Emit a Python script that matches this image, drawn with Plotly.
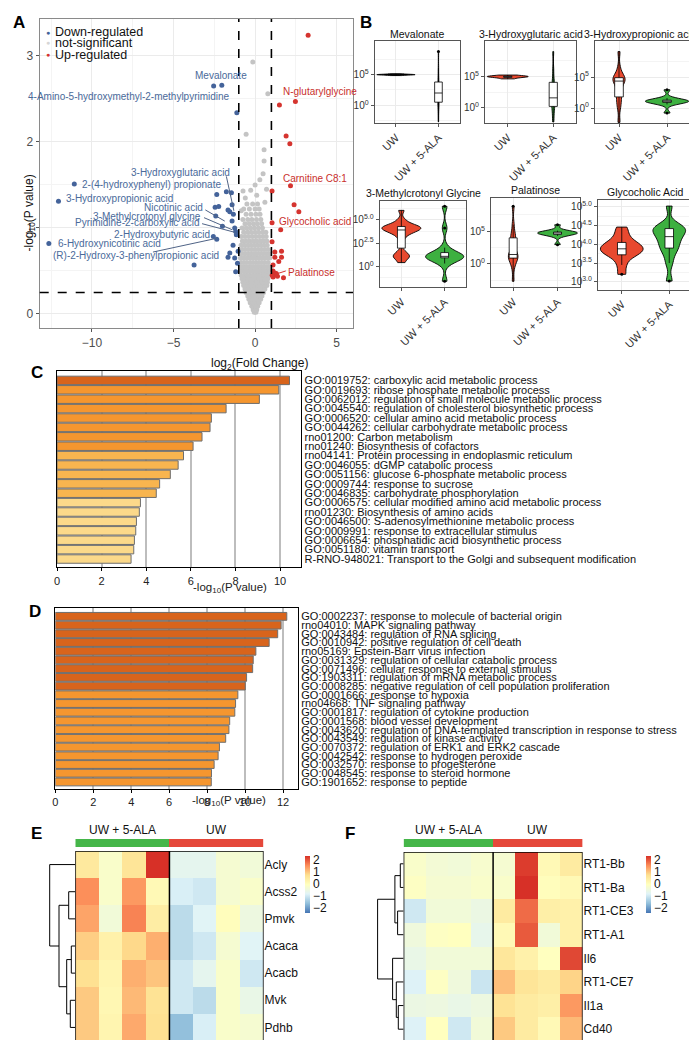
import numpy as np
import plotly.graph_objects as go

W, H = 697, 1040
FONT = "Liberation Sans, Arial, Helvetica, sans-serif"

def X(px): return px / W
def Y(py): return 1 - py / H
def xd(a, b): return [X(a), X(b)]
def yd(top, bot): return [Y(bot), Y(top)]

# ---------------- Panel A : volcano ----------------
fc_thr = 1.0
p_thr = 0.25
down_x = [-2.54, -2.04, -1.12, -11.08, -12.05, -12.64, -3.74, -2.56, -2.35, -2.35, -1.76, -1.45, -2.45, -2.23, -2.41,
          -2.0, -1.66, -1.55, -1.41, -1.33, -1.41, -1.25, -1.19, -1.15, -1.55, -1.66, -1.35, -1.25, -1.19, -1.04, -1.08]
down_y = [2.65, 2.66, 2.34, 1.51, 1.31, 0.82, 0.57, 0.90, 0.87, 1.39, 1.42, 1.41, 1.24, 1.25, 1.14,
          1.02, 1.21, 1.19, 1.27, 1.16, 1.08, 1.0, 0.96, 0.92, 0.71, 0.66, 0.80, 0.65, 0.49, 0.73, 0.59]
up_x = [3.25, 1.49, 2.47, 1.90, 2.13, 2.17, 2.39, 2.68, 1.04, 1.04, 1.57, 1.21, 1.62, 1.21, 1.62, 1.45,
        1.10, 1.21, 1.37, 1.10, 1.74, 1.04, 1.10, 1.15, 1.30, 1.05]
up_y = [3.24, 2.43, 2.47, 2.07, 1.98, 1.49, 1.27, 1.19, 1.43, 1.06, 0.98, 0.72, 0.73, 0.66, 0.66, 0.61,
        0.50, 0.46, 0.44, 0.43, 0.42, 0.84, 0.57, 0.48, 0.47, 0.45]
grey_rows = [
    (0.02, [-0.05, 0.05]),
    (0.05, [-0.12, 0.0, 0.1]),
    (0.09, [-0.2, -0.08, 0.04, 0.16]),
    (0.13, [-0.3, -0.15, 0.0, 0.12, 0.25]),
    (0.17, [-0.38, -0.22, -0.06, 0.08, 0.22, 0.34]),
    (0.21, [-0.45, -0.3, -0.12, 0.02, 0.18, 0.32, 0.42]),
    (0.25, [-0.55, -0.38, -0.2, -0.05, 0.1, 0.26, 0.4, 0.52]),
    (0.29, [-0.62, -0.45, -0.28, -0.12, 0.04, 0.2, 0.35, 0.5, 0.6]),
    (0.33, [-0.7, -0.52, -0.35, -0.18, 0.0, 0.15, 0.3, 0.46, 0.62, 0.72]),
    (0.37, [-0.75, -0.58, -0.4, -0.22, -0.05, 0.12, 0.28, 0.44, 0.6, 0.75]),
    (0.41, [-0.8, -0.62, -0.45, -0.28, -0.1, 0.08, 0.25, 0.42, 0.58, 0.78]),
    (0.45, [-0.85, -0.66, -0.48, -0.3, -0.12, 0.05, 0.22, 0.4, 0.56, 0.72, 0.85]),
    (0.50, [-0.88, -0.7, -0.52, -0.34, -0.16, 0.02, 0.2, 0.38, 0.55, 0.72, 0.88]),
    (0.55, [-0.9, -0.72, -0.55, -0.36, -0.18, 0.0, 0.18, 0.36, 0.54, 0.72, 0.9]),
    (0.60, [-0.86, -0.68, -0.5, -0.3, -0.12, 0.06, 0.24, 0.42, 0.6, 0.8]),
    (0.65, [-0.9, -0.7, -0.5, -0.32, -0.14, 0.04, 0.22, 0.4, 0.58, 0.76, 0.9]),
    (0.70, [-0.85, -0.64, -0.44, -0.26, -0.08, 0.1, 0.3, 0.5, 0.7, 0.88]),
    (0.75, [-0.8, -0.6, -0.4, -0.2, 0.0, 0.2, 0.4, 0.6, 0.8]),
    (0.80, [-0.86, -0.66, -0.46, -0.26, -0.06, 0.14, 0.34, 0.54, 0.74]),
    (0.85, [-0.78, -0.56, -0.34, -0.12, 0.1, 0.32, 0.52, 0.72]),
    (0.90, [-0.84, -0.62, -0.4, -0.18, 0.04, 0.26, 0.48, 0.68]),
    (0.95, [-0.7, -0.46, -0.24, 0.0, 0.22, 0.46, 0.66]),
    (1.00, [-0.8, -0.55, -0.3, -0.05, 0.2, 0.45]),
    (1.05, [-0.62, -0.36, -0.1, 0.14, 0.4]),
    (1.10, [-0.75, -0.45, -0.2, 0.08, 0.35]),
    (1.16, [-0.55, -0.25, 0.05, 0.3]),
    (1.22, [-0.7, -0.35, 0.0, 0.25]),
    (1.28, [-0.5, -0.15, 0.15]),
]
grey_extra_x = [-0.14, 0.78, -0.55, 0.55, 0.55, 0.49, 0.29, -0.27, -0.74, -0.6, 0.1, 0.6, -0.85, 0.7, 0.0]
grey_extra_y = [2.93, 2.56, 2.09, 1.91, 1.78, 1.63, 1.56, 1.44, 1.43, 1.35, 1.38, 1.30, 1.20, 1.45, 1.50]
grey_x = [x for y, xs in grey_rows for x in xs] + grey_extra_x
grey_y = [y for y, xs in grey_rows for x in xs] + grey_extra_y

down_labels = ["Mevalonate", "4-Amino-5-hydroxymethyl-2-methylpyrimidine", "3-Hydroxyglutaric acid",
               "2-(4-hydroxyphenyl) propionate", "3-Hydroxypropionic acid", "Nicotinic acid",
               "3-Methylcrotonyl glycine", "Pyrimidine-2-carboxylic acid", "2-Hydroxybutyric acid",
               "6-Hydroxynicotinic acid", "(R)-2-Hydroxy-3-phenylpropionic acid"]
down_lab_x = [-2.06, -1.41, -1.41, -10.74, -11.72, -3.07, -3.19, -3.31, -2.64, -12.21, -2.09]
down_lab_y = [2.775, 2.53, 1.65, 1.51, 1.34, 1.24, 1.136, 1.058, 0.922, 0.817, 0.683]
down_lab_anchor = ["center", "right", "right", "left", "left", "right", "right", "right", "right", "left", "right"]
up_labels = ["N-glutarylglycine", "Carnitine C8:1", "Glycocholic acid", "Palatinose"]
up_lab_x = [1.58, 1.58, 1.37, 1.90]
up_lab_y = [2.59, 1.57, 1.078, 0.477]
down_seg = [(-1.76, 1.60, -1.30, 1.20), (-3.05, 1.21, -1.86, 1.08), (-3.13, 1.12, -1.41, 0.98),
            (-3.25, 1.05, -1.25, 0.95), (-6.26, 0.72, -2.35, 0.88)]
up_seg = [(1.88, 0.50, 1.21, 0.46)]

# ---------------- Panel B : violins (log10 values) ----------------
groups_b = ["UW", "UW + 5-ALA"]
mev_uw = [4.85, 4.95, 5.0, 5.0, 5.0, 5.05, 5.15]
mev_ala = [-2.7, -0.5, 0.5, 0.8, 1.5, 2.5, 3.5, 3.8, 6.0, 8.8]
hga_uw = [4.6, 4.8, 4.9, 4.95, 5.0, 5.05, 5.2]
hga_ala = [-2.2, -1.0, 0.0, 0.5, 1.0, 1.2, 2.0, 3.0, 3.9, 4.2, 6.0, 8.9]
hpa_uw = [-2.3, 0.0, 1.0, 1.8, 2.5, 3.5, 4.2, 4.5, 4.6, 4.8, 4.9, 5.2, 6.5, 9.1]
hpa_ala = [-0.8, 0.6, 0.9, 1.0, 1.05, 1.1, 1.15, 1.2, 1.3, 1.6, 2.95]
mcg_uw = [0.4, 0.9, 1.07, 1.2, 1.6, 3.0, 3.5, 3.6, 3.8, 3.9, 4.0, 4.1, 4.15, 4.2, 4.3, 4.4, 4.6, 5.0, 6.0]
mcg_ala = [-1.6, 0.3, 0.8, 0.95, 1.0, 1.05, 1.07, 1.1, 1.15, 1.3, 2.0, 4.1, 6.44]
pal_uw = [-2.65, -0.5, 0.5, 0.9, 1.1, 1.2, 1.3, 1.6, 2.5, 3.8, 4.0, 4.5, 6.0, 8.83]
pal_ala = [2.96, 4.3, 4.5, 4.6, 4.7, 4.75, 4.8, 4.85, 4.9, 5.1, 6.0]
gca_uw = [3.2, 3.45, 3.65, 3.72, 3.78, 3.83, 3.86, 3.9, 3.95, 4.0, 4.05, 4.15, 4.3, 4.46]
gca_ala = [3.02, 3.5, 3.75, 3.9, 3.95, 4.1, 4.16, 4.25, 4.35, 4.4, 4.42, 4.45, 4.5, 5.02]

# ---------------- Panel C / D : enrichment ----------------
c_terms = ["GO:0019752: carboxylic acid metabolic process",
           "GO:0019693: ribose phosphate metabolic process",
           "GO:0062012: regulation of small molecule metabolic process",
           "GO:0045540: regulation of cholesterol biosynthetic process",
           "GO:0006520: cellular amino acid metabolic process",
           "GO:0044262: cellular carbohydrate metabolic process",
           "rno01200: Carbon metabolism",
           "rno01240: Biosynthesis of cofactors",
           "rno04141: Protein processing in endoplasmic reticulum",
           "GO:0046055: dGMP catabolic process",
           "GO:0051156: glucose 6-phosphate metabolic process",
           "GO:0009744: response to sucrose",
           "GO:0046835: carbohydrate phosphorylation",
           "GO:0006575: cellular modified amino acid metabolic process",
           "rno01230: Biosynthesis of amino acids",
           "GO:0046500: S-adenosylmethionine metabolic process",
           "GO:0009991: response to extracellular stimulus",
           "GO:0006654: phosphatidic acid biosynthetic process",
           "GO:0051180: vitamin transport",
           "R-RNO-948021: Transport to the Golgi and subsequent modification"]
c_vals = [10.42, 9.94, 9.07, 7.58, 6.92, 6.86, 6.5, 6.1, 5.67, 5.43, 5.08, 4.6, 4.45, 3.74, 3.69, 3.56, 3.53,
          3.47, 3.44, 3.32]
d_terms = ["GO:0002237: response to molecule of bacterial origin",
           "rno04010: MAPK signaling pathway",
           "GO:0043484: regulation of RNA splicing",
           "GO:0010942: positive regulation of cell death",
           "rno05169: Epstein-Barr virus infection",
           "GO:0031329: regulation of cellular catabolic process",
           "GO:0071496: cellular response to external stimulus",
           "GO:1903311: regulation of mRNA metabolic process",
           "GO:0008285: negative regulation of cell population proliferation",
           "GO:0001666: response to hypoxia",
           "rno04668: TNF signaling pathway",
           "GO:0001817: regulation of cytokine production",
           "GO:0001568: blood vessel development",
           "GO:0043620: regulation of DNA-templated transcription in response to stress",
           "GO:0043549: regulation of kinase activity",
           "GO:0070372: regulation of ERK1 and ERK2 cascade",
           "GO:0042542: response to hydrogen peroxide",
           "GO:0032570: response to progesterone",
           "GO:0048545: response to steroid hormone",
           "GO:1901652: response to peptide"]
d_vals = [12.2, 11.9, 11.72, 11.27, 10.57, 10.43, 10.4, 10.08, 10.01, 9.62, 9.5, 9.46, 9.19, 9.15, 8.98,
          8.65, 8.58, 8.37, 8.23, 8.22]
bins = [10, 6, 4]
bin_colors = ["#D8641C", "#F5962F", "#F8B54F", "#FCD98A"]

# ---------------- Panel E / F : heatmaps ----------------
heat_groups = ["UW + 5-ALA"] * 4 + ["UW"] * 4
e_genes = ["Acly", "Acss2", "Pmvk", "Acaca", "Acacb", "Mvk", "Pdhb"]
e_vals = [
    [0.5, -0.2, 0.6, 2.3, -0.7, -0.7, -0.3, -0.4],
    [1.5, -0.2, 1.4, 0.1, -0.9, -1.0, -0.3, -0.2],
    [1.3, -0.4, 1.6, 0.4, -1.2, -0.8, 0.0, -0.5],
    [0.9, 0.3, 0.8, 1.2, -1.2, -1.0, -0.3, -0.8],
    [0.7, 0.2, 1.2, 1.0, -1.0, -0.7, -0.2, -1.0],
    [0.95, 0.15, 1.1, 0.65, -1.0, -1.2, -0.2, -0.6],
    [0.95, 0.2, 1.25, 0.7, -1.6, -0.9, -0.2, -0.3],
]
e_merges = [(3, 4, 4.0), (5, 6, 5.0), (1, 2, 6.6), (7, 8, 8.6), (9, 10, 16.3), (0, 11, 25.6)]
f_genes = ["RT1-Bb", "RT1-Ba", "RT1-CE3", "RT1-A1", "Il6", "RT1-CE7", "Il1a", "Cd40"]
f_vals = [
    [-0.2, -0.35, -0.4, -0.25, -0.3, 2.2, 0.1, 0.45],
    [-0.1, -0.3, -0.3, -0.2, -0.2, 2.3, 0.0, 0.1],
    [-1.0, -0.4, -0.4, -0.55, 0.45, 1.8, 0.35, 0.3],
    [-0.45, -0.1, -0.05, -0.65, 0.1, 1.95, -0.4, 0.3],
    [-0.6, -0.4, -0.4, -0.4, 0.55, 0.3, -0.05, 2.1],
    [-0.85, -0.1, -0.45, -1.05, 1.05, 0.6, 0.45, 0.85],
    [-0.55, -0.5, -0.6, -0.5, 0.65, 0.45, 0.35, 1.4],
    [-0.85, -0.05, -1.0, -0.4, 0.95, 0.45, 0.1, 1.1],
]
f_merges = [(0, 1, 3.3), (2, 3, 6.0), (8, 9, 8.7), (6, 7, 5.3), (5, 11, 7.3), (4, 12, 11.0), (10, 13, 26.0)]
heat_scale = ["#4575B4", "#91BFDB", "#E0F3F8", "#FFFFBF", "#FEE090", "#FC8D59", "#D73027"]

# ======================================================================
RED_V, GREEN_V = "#E8492F", "#3DB040"
BLUE, RED, GREY = "#44639A", "#D5342F", "#C4C4C4"
fig = go.Figure()
L = dict(width=W, height=H, margin=dict(l=0, r=0, t=0, b=0), paper_bgcolor="white", plot_bgcolor="white",
         showlegend=False, font=dict(family=FONT, size=11, color="#222222"),
         violinmode="overlay", boxmode="overlay", bargap=0.1)
ann = []
shapes = []

# ---- A ----
L["xaxis"] = dict(domain=xd(31.7, 345), range=[-13.2, 6.0], tickvals=[-10, -5, 0, 5], anchor="y",
                  showgrid=True, gridcolor="#EBEBEB", zeroline=False, showline=True, mirror=True,
                  linecolor="#8A8A8A", linewidth=1.2, ticks="outside", ticklen=3, tickcolor="#555",
                  tickfont=dict(size=12, color="#4D4D4D"), automargin=False,
                  minor=dict(tickvals=[-12.5, -7.5, -2.5, 2.5], showgrid=True, gridcolor="#F4F4F4", ticks=""))
L["yaxis"] = dict(domain=yd(11, 320), range=[-0.163, 3.43], tickvals=[0, 1, 2, 3], anchor="x",
                  showgrid=True, gridcolor="#EBEBEB", zeroline=False, showline=True, mirror=True,
                  linecolor="#8A8A8A", linewidth=1.2, ticks="outside", ticklen=3, tickcolor="#555",
                  tickfont=dict(size=12, color="#4D4D4D"), automargin=False,
                  minor=dict(tickvals=[0.5, 1.5, 2.5], showgrid=True, gridcolor="#F4F4F4", ticks=""))
fig.add_trace(go.Scatter(x=grey_x, y=grey_y, mode="markers", marker=dict(size=5, color=GREY), xaxis="x", yaxis="y"))
fig.add_trace(go.Scatter(x=down_x, y=down_y, mode="markers", marker=dict(size=5, color=BLUE), xaxis="x", yaxis="y"))
fig.add_trace(go.Scatter(x=up_x, y=up_y, mode="markers", marker=dict(size=5, color=RED), xaxis="x", yaxis="y"))

def seg_xy(segs):
    xs, ys = [], []
    for x0, y0, x1, y1 in segs:
        xs += [x0, x1, None]
        ys += [y0, y1, None]
    return xs, ys
sx, sy = seg_xy(down_seg)
fig.add_trace(go.Scatter(x=sx, y=sy, mode="lines", line=dict(color="#4F6386", width=1), xaxis="x", yaxis="y"))
sx, sy = seg_xy(up_seg)
fig.add_trace(go.Scatter(x=sx, y=sy, mode="lines", line=dict(color=RED, width=1), xaxis="x", yaxis="y"))
for t, x, y, a in zip(down_labels, down_lab_x, down_lab_y, down_lab_anchor):
    ann.append(dict(text=t, x=x, y=y, xref="x", yref="y", xanchor=a, yanchor="middle", showarrow=False,
                    font=dict(size=10, color="#4A6A9A")))
for t, x, y in zip(up_labels, up_lab_x, up_lab_y):
    ann.append(dict(text=t, x=x, y=y, xref="x", yref="y", xanchor="left", yanchor="middle", showarrow=False,
                    font=dict(size=10, color="#C9302C")))
for xv in (-fc_thr, fc_thr):
    shapes.append(dict(type="line", xref="x", yref="y domain", x0=xv, x1=xv, y0=0, y1=1,
                       line=dict(color="black", width=1.6, dash="dash")))
shapes.append(dict(type="line", xref="x domain", yref="y", x0=0, x1=1, y0=p_thr, y1=p_thr,
                   line=dict(color="black", width=1.6, dash="dash")))
leg = [("Down-regulated", BLUE, 24), ("not-significant", "#D6D6D6", 35), ("Up-regulated", RED, 47)]
for t, c, py in leg:
    ann.append(dict(text="●", x=X(40), y=Y(py), xref="paper", yref="paper", xanchor="center", yanchor="middle",
                    showarrow=False, font=dict(size=7, color=c)))
    ann.append(dict(text=t, x=X(45), y=Y(py), xref="paper", yref="paper", xanchor="left", yanchor="middle",
                    showarrow=False, font=dict(size=12.5, color="#111")))
ann.append(dict(text="log<sub>2</sub>(Fold Change)", x=X(201), y=Y(346), xref="paper", yref="paper",
                showarrow=False, font=dict(size=12, color="#111")))
ann.append(dict(text="-log<sub>10</sub>(P value)", x=X(11), y=Y(165), xref="paper", yref="paper", textangle=-90,
                showarrow=False, font=dict(size=12, color="#111")))

# ---- B ----
def kde_peak(s, bw):
    s = np.asarray(s, float)
    g = np.linspace(s.min(), s.max(), 600)
    d = np.exp(-0.5 * ((g[:, None] - s[None, :]) / bw) ** 2).sum(1) / (len(s) * bw * np.sqrt(2 * np.pi))
    return d.max()

b_panels = [
    ("Mevalonate", mev_uw, mev_ala, (0.06, 1.0), (366.7, 451.7, 33.3, 115), [-2.9, 10.45],
     [0, 5], ["10<sup>0</sup>", "10<sup>5</sup>"], [-2.5, 2.5, 7.5], ("black", "black"), 0),
    ("3-Hydroxyglutaric acid", hga_uw, hga_ala, (0.12, 0.8), (477, 568, 33.3, 115), [-2.37, 10.53],
     [0, 5], ["10<sup>0</sup>", "10<sup>5</sup>"], [-2.5, 2.5, 7.5], (RED_V, GREEN_V), 0),
    ("3-Hydroxypropionic acid", hpa_uw, hpa_ala, (0.8, 0.35), (587, 683, 33.3, 115), [-2.4, 10.76],
     [0, 5], ["10<sup>0</sup>", "10<sup>5</sup>"], [-2.5, 2.5, 7.5], (RED_V, GREEN_V), -3),
    ("3-Methylcrotonyl Glycine", mcg_uw, mcg_ala, (0.3, 0.5), (371.7, 458.3, 192.7, 279.3), [-2.25, 7.04],
     [0, 2.5, 5], ["10<sup>0</sup>", "10<sup>2.5</sup>", "10<sup>5.0</sup>"], [-1.25, 1.25, 3.75, 6.25],
     (RED_V, GREEN_V), 0),
    ("Palatinose", pal_uw, pal_ala, (0.8, 0.3), (483, 571.7, 190, 279.3), [-3.57, 10.1],
     [0, 5], ["10<sup>0</sup>", "10<sup>5</sup>"], [-2.5, 2.5, 7.5], (RED_V, GREEN_V), 0),
    ("Glycocholic Acid", gca_uw, gca_ala, (0.12, 0.15), (590, 685, 191.7, 281.7), [2.79, 5.19],
     [3.0, 3.5, 4.0, 4.5, 5.0], ["10<sup>3.0</sup>", "10<sup>3.5</sup>", "10<sup>4.0</sup>", "10<sup>4.5</sup>",
                                 "10<sup>5.0</sup>"], [3.25, 3.75, 4.25, 4.75], (RED_V, GREEN_V), 0),
]
for i, (title, s_uw, s_ala, bws, (x0, x1, y0, y1), yr, tv, tt, mv, cols, tshift) in enumerate(b_panels):
    k = i + 2
    xa, ya = f"x{k}", f"y{k}"
    L[f"xaxis{k}"] = dict(domain=xd(x0, x1), anchor=ya, type="category", categoryorder="array",
                          categoryarray=groups_b, range=[-0.5, 1.5], tickangle=-45,
                          tickfont=dict(size=11, color="#333"), showgrid=True, gridcolor="#EBEBEB",
                          showline=True, mirror=True, linecolor="#555", linewidth=1.1,
                          ticks="outside", ticklen=3, tickcolor="#555", automargin=False)
    L[f"yaxis{k}"] = dict(domain=yd(y0, y1), anchor=xa, range=yr, tickvals=tv, ticktext=tt,
                          tickfont=dict(size=10, color="#333"), showgrid=True, gridcolor="#EBEBEB",
                          zeroline=False, showline=True, mirror=True, linecolor="#555", linewidth=1.1,
                          ticks="outside", ticklen=3, tickcolor="#555", automargin=False,
                          minor=dict(tickvals=mv, showgrid=True, gridcolor="#F4F4F4", ticks=""))
    peaks = [kde_peak(s_uw, bws[0]), kde_peak(s_ala, bws[1])]
    pm = max(peaks)
    for g, s, bw, pk, col in zip(groups_b, (s_uw, s_ala), bws, peaks, cols):
        fig.add_trace(go.Violin(x=[g] * len(s), y=s, xaxis=xa, yaxis=ya, bandwidth=bw, spanmode="hard",
                                scalemode="width", width=0.9 * pk / pm, points=False, box_visible=False,
                                fillcolor=col, opacity=1, line=dict(color="black", width=0.9),
                                meanline_visible=False, hoverinfo="skip"))
        fig.add_trace(go.Box(x=[g] * len(s), y=s, xaxis=xa, yaxis=ya, width=0.18, fillcolor="white",
                             line=dict(color="black", width=0.8), whiskerwidth=0, boxpoints="outliers",
                             marker=dict(size=3, color="black"), hoverinfo="skip"))
    ann.append(dict(text=title, x=X((x0 + x1) / 2 + tshift), y=Y(y0 - 7.5), xref="paper", yref="paper",
                    xanchor="center", yanchor="middle", showarrow=False, font=dict(size=10.5, color="#111")))

# ---- C / D ----
def bar_color(v):
    for b, c in zip(bins, bin_colors):
        if v >= b:
            return c
    return bin_colors[-1]

def enrich(k, terms, vals, dom_x, dom_y, xr, yr, tvals, title_x, title_y):
    xa, ya = f"x{k}", f"y{k}"
    L[f"xaxis{k}"] = dict(domain=xd(*dom_x), anchor=ya, range=xr, tickvals=tvals, showgrid=True,
                          gridcolor="#BDBDBD", gridwidth=1.6, zeroline=False, showline=True, mirror=True,
                          linecolor="black", linewidth=1.2, ticks="outside", ticklen=3, tickcolor="black",
                          tickfont=dict(size=11, color="#222"), automargin=False)
    L[f"yaxis{k}"] = dict(domain=yd(*dom_y), anchor=xa, range=yr, tickvals=list(range(len(terms))),
                          ticktext=terms, side="right", showgrid=False, zeroline=False, showline=True,
                          mirror=True, linecolor="black", linewidth=1.2, ticks="",
                          tickfont=dict(size=11, color="#111"), automargin=False)
    fig.add_trace(go.Bar(x=vals, y=list(range(len(vals))), orientation="h", xaxis=xa, yaxis=ya,
                         marker=dict(color=[bar_color(v) for v in vals], line=dict(color="#6E6E6E", width=1)),
                         hoverinfo="skip"))
    ann.append(dict(text="-log<sub>10</sub>(P value)", x=X(title_x), y=Y(title_y), xref="paper", yref="paper",
                    showarrow=False, font=dict(size=11.5, color="#222")))

enrich(8, c_terms, c_vals, (49, 293.3), (363, 559.3), [0, 10.95], [19.88, -1.0], [0, 2, 4, 6, 8, 10], 182.5, 580)
enrich(9, d_terms, d_vals, (47.3, 290), (600, 781), [0, 12.79], [19.81, -0.96], [0, 2, 4, 6, 8, 10, 12],
       181.7, 802)

# ---- E / F ----
def dendro(merges, n):
    pos = {i: float(i) for i in range(n)}
    hgt = {i: 0.0 for i in range(n)}
    xs, ys = [], []
    for j, (a, b, h) in enumerate(merges):
        node = n + j
        for c in (a, b):
            xs += [hgt[c], h, None]
            ys += [pos[c], pos[c], None]
        xs += [h, h, None]
        ys += [pos[a], pos[b], None]
        pos[node] = (pos[a] + pos[b]) / 2
        hgt[node] = h
    return xs, ys

def heat(kh, kb, kd, genes, vals, merges, hx, hy, by, dx, dr, cbx, lab_y):
    n = len(genes)
    m = len(heat_groups)
    xa, ya = f"x{kh}", f"y{kh}"
    L[f"xaxis{kh}"] = dict(domain=xd(*hx), anchor=ya, range=[-0.5, m - 0.5], showgrid=False, zeroline=False,
                           showticklabels=False, ticks="", automargin=False)
    L[f"yaxis{kh}"] = dict(domain=yd(*hy), anchor=xa, range=[n - 0.5, -0.5], tickvals=list(range(n)),
                           ticktext=genes, side="right", showgrid=False, zeroline=False, ticks="",
                           tickfont=dict(size=12, color="#111"), automargin=False)
    L[f"yaxis{kb}"] = dict(domain=yd(*by), anchor=xa, range=[-0.5, 0.5], visible=False)
    L[f"xaxis{kd}"] = dict(domain=xd(*dx), anchor=ya, range=dr, visible=False)
    cs = [[i / (len(heat_scale) - 1), c] for i, c in enumerate(heat_scale)]
    fig.add_trace(go.Heatmap(z=vals, x=list(range(m)), y=list(range(n)), xaxis=xa, yaxis=ya, colorscale=cs,
                             zmin=-2.4, zmax=2.3, hoverinfo="skip",
                             colorbar=dict(x=X(cbx), xanchor="left", xpad=0, y=Y(848), yanchor="top", ypad=0,
                                           len=57, lenmode="pixels", thickness=5, outlinewidth=0,
                                           tickvals=[-2, -1, 0, 1, 2], ticks="",
                                           tickfont=dict(size=12, color="#111"))))
    codes = [[0 if g == heat_groups[0] else 1 for g in heat_groups]]
    fig.add_trace(go.Heatmap(z=codes, x=list(range(m)), y=[0], xaxis=xa, yaxis=f"y{kb}", showscale=False,
                             colorscale=[[0, "#45B649"], [0.5, "#45B649"], [0.5, "#E5483A"], [1, "#E5483A"]],
                             zmin=0, zmax=1, hoverinfo="skip"))
    dxs, dys = dendro(merges, n)
    fig.add_trace(go.Scatter(x=dxs, y=dys, mode="lines", xaxis=f"x{kd}", yaxis=ya,
                             line=dict(color="black", width=1), hoverinfo="skip"))
    shapes.append(dict(type="rect", xref=xa, yref=ya, x0=-0.5, x1=m - 0.5, y0=-0.5, y1=n - 0.5,
                       line=dict(color="black", width=1.5)))
    n_first = heat_groups.count(heat_groups[0])
    shapes.append(dict(type="line", xref=xa, yref=ya, x0=n_first - 0.5, x1=n_first - 0.5, y0=-0.5, y1=n - 0.5,
                       line=dict(color="black", width=1.5)))
    for g in dict.fromkeys(heat_groups):
        idx = [i for i, gg in enumerate(heat_groups) if gg == g]
        ann.append(dict(text=g, x=float(np.mean(idx)), y=Y(lab_y), xref=xa, yref="paper", xanchor="center",
                        yanchor="middle", showarrow=False, font=dict(size=12, color="#111")))

heat(10, 11, 12, e_genes, e_vals, e_merges, (67.3, 255.6), (843, 1033), (831, 839), (39.5, 67.3), [27.8, 0],
     297, 822)
heat(13, 14, 15, f_genes, f_vals, f_merges, (395.6, 574.6), (844, 1033), (831, 839), (368, 395.6), [27.6, 0],
     638, 822)

# ---- panel letters ----
for t, px, py in [("A", 11, 15), ("B", 358, 15), ("C", 29, 364), ("D", 27, 603), ("E", 29, 825), ("F", 342, 825)]:
    ann.append(dict(text=f"<b>{t}</b>", x=X(px), y=Y(py), xref="paper", yref="paper", xanchor="center",
                    yanchor="middle", showarrow=False, font=dict(size=17, color="black")))

L["annotations"] = ann
L["shapes"] = shapes
fig.update_layout(**L)
fig.write_html("out.html")
